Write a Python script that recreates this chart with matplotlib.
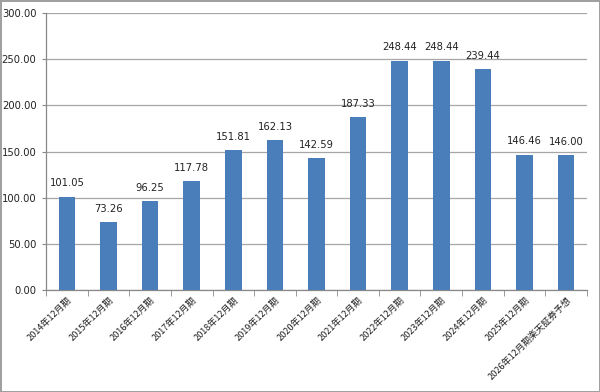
import matplotlib
matplotlib.use("Agg")
import matplotlib.pyplot as plt
import numpy as np

plt.rcParams["font.family"] = ["DejaVu Sans", "Noto Sans CJK JP"]

categories = [
    "2014年12月期", "2015年12月期", "2016年12月期", "2017年12月期",
    "2018年12月期", "2019年12月期", "2020年12月期", "2021年12月期",
    "2022年12月期", "2023年12月期", "2024年12月期", "2025年12月期",
    "2026年12月期楽天証券予想",
]
values = [101.05, 73.26, 96.25, 117.78, 151.81, 162.13, 142.59, 187.33,
          248.44, 248.44, 239.44, 146.46, 146.00]
yticks = [0, 50, 100, 150, 200, 250, 300]

fig = plt.figure(figsize=(6, 3.92), dpi=100, facecolor="white",
                 edgecolor="#a0a0a0", linewidth=2)
ax = fig.add_axes([0.077, 0.26, 0.901, 0.707])

x = np.arange(len(values))
ax.bar(x, values, width=0.4, color="#4a7ebb", zorder=3)

for xi, v in zip(x, values):
    ax.annotate(f"{v:.2f}", (xi, v), xytext=(0, 6), textcoords="offset points",
                ha="center", va="bottom", fontsize=7.2, color="#222222")

ax.set_xlim(-0.5, len(values) - 0.5)
ax.set_ylim(0, 300)
ax.set_yticks(yticks)
ax.set_yticklabels([f"{t:.2f}" for t in yticks], fontsize=7.2, color="#222222")
ax.yaxis.grid(True, color="#a6a6a6", linewidth=0.9, zorder=0)

ax.set_xticks(x)
ax.set_xticklabels(categories, rotation=45, ha="right", va="top",
                   rotation_mode="anchor", fontsize=6.6,
                   family=["Noto Sans CJK JP", "DejaVu Sans"], color="#222222")
ax.set_xticks(np.arange(len(values) + 1) - 0.5, minor=True)
ax.tick_params(axis="x", which="major", length=0, pad=4)
ax.tick_params(axis="x", which="minor", length=4, color="#888888")
ax.tick_params(axis="y", length=3, color="#888888", pad=4)

for side in ["top", "right"]:
    ax.spines[side].set_visible(False)
for side in ["left", "bottom"]:
    ax.spines[side].set_color("#888888")
    ax.spines[side].set_linewidth(0.9)

fig.savefig("out.png", dpi=100)
